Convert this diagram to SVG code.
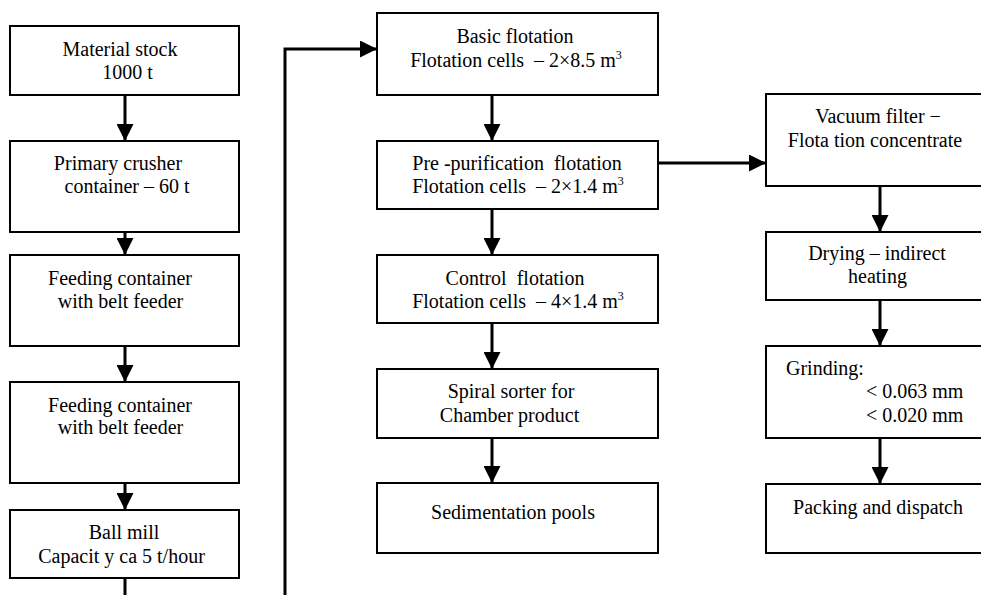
<svg xmlns="http://www.w3.org/2000/svg" width="981" height="595" viewBox="0 0 981 595">
<style>
.box{fill:#fff;stroke:#000;stroke-width:2}
.t{font-family:"Liberation Serif","Times New Roman",serif;font-size:20px;fill:#000;text-anchor:middle;white-space:pre}
.s{text-anchor:start}
.c{fill:none;stroke:#000;stroke-width:3}
.sup{font-size:12px}
</style>
<defs>
<marker id="ah" markerUnits="userSpaceOnUse" markerWidth="17" markerHeight="17" refX="17" refY="8.5" orient="auto">
<path d="M0,0 L17,8.5 L0,17 z" fill="#000"/>
</marker>
</defs>
<rect width="981" height="595" fill="#fff"/>
<g id="connectors">
<path class="c" d="M125,95 V141" marker-end="url(#ah)"/>
<path class="c" d="M125,232 V255" marker-end="url(#ah)"/>
<path class="c" d="M125,346 V382" marker-end="url(#ah)"/>
<path class="c" d="M125,483 V510" marker-end="url(#ah)"/>
<path class="c" d="M125,578 V600"/>
<path class="c" d="M285,600 V49 H377" marker-end="url(#ah)"/>
<path class="c" d="M492,95 V141" marker-end="url(#ah)"/>
<path class="c" d="M492,209 V255" marker-end="url(#ah)"/>
<path class="c" d="M492,323 V369" marker-end="url(#ah)"/>
<path class="c" d="M492,438 V483" marker-end="url(#ah)"/>
<path class="c" d="M658,163 H766" marker-end="url(#ah)"/>
<path class="c" d="M880,186 V232" marker-end="url(#ah)"/>
<path class="c" d="M880,300 V346" marker-end="url(#ah)"/>
<path class="c" d="M880,438 V484" marker-end="url(#ah)"/>
</g>
<g id="material-stock">
<rect class="box" x="10" y="26" width="229" height="69"/>
<text class="t" x="120" y="56">Material stock</text>
<text class="t" x="127.5" y="79">1000 t</text>
</g>
<g id="primary-crusher">
<rect class="box" x="10" y="141" width="229" height="91"/>
<text class="t" x="118" y="170">Primary crusher</text>
<text class="t" x="127" y="193">container – 60 t</text>
</g>
<g id="feeding-container-1">
<rect class="box" x="10" y="255" width="229" height="91"/>
<text class="t" x="120" y="285">Feeding container</text>
<text class="t" x="120.5" y="308">with belt feeder</text>
</g>
<g id="feeding-container-2">
<rect class="box" x="10" y="382" width="229" height="101"/>
<text class="t" x="120" y="412">Feeding container</text>
<text class="t" x="120.5" y="434">with belt feeder</text>
</g>
<g id="ball-mill">
<rect class="box" x="10" y="510" width="229" height="68"/>
<text class="t" x="124" y="539">Ball mill</text>
<text class="t" x="121.5" y="563">Capacit y ca 5 t/hour</text>
</g>
<g id="basic-flotation">
<rect class="box" x="377" y="13" width="281" height="82"/>
<text class="t" x="515" y="43">Basic flotation</text>
<text class="t" x="516" y="67">Flotation cells  – 2×8.5 m<tspan class="sup" dy="-8">3</tspan></text>
</g>
<g id="pre-purification">
<rect class="box" x="377" y="141" width="281" height="68"/>
<text class="t" x="517" y="170">Pre -purification  flotation</text>
<text class="t" x="518" y="193">Flotation cells  – 2×1.4 m<tspan class="sup" dy="-8">3</tspan></text>
</g>
<g id="control-flotation">
<rect class="box" x="377" y="255" width="281" height="68"/>
<text class="t" x="515" y="285">Control  flotation</text>
<text class="t" x="518" y="308">Flotation cells  – 4×1.4 m<tspan class="sup" dy="-8">3</tspan></text>
</g>
<g id="spiral-sorter">
<rect class="box" x="377" y="369" width="281" height="69"/>
<text class="t" x="511" y="398">Spiral sorter for</text>
<text class="t" x="509.5" y="422">Chamber product</text>
</g>
<g id="sedimentation">
<rect class="box" x="377" y="483" width="281" height="70"/>
<text class="t" x="513" y="519">Sedimentation pools</text>
</g>
<g id="vacuum-filter">
<rect class="box" x="766" y="94" width="230" height="92"/>
<text class="t" x="878" y="123">Vacuum filter −</text>
<text class="t" x="875" y="147">Flota tion concentrate</text>
</g>
<g id="drying">
<rect class="box" x="766" y="232" width="230" height="68"/>
<text class="t" x="877" y="260">Drying – indirect</text>
<text class="t" x="877.5" y="283">heating</text>
</g>
<g id="grinding">
<rect class="box" x="766" y="346" width="230" height="92"/>
<text class="t s" x="786" y="375">Grinding:</text>
<text class="t s" x="866" y="398">&lt; 0.063 mm</text>
<text class="t s" x="866" y="422">&lt; 0.020 mm</text>
</g>
<g id="packing">
<rect class="box" x="766" y="484" width="230" height="69"/>
<text class="t" x="878" y="514">Packing and dispatch</text>
</g>
</svg>
